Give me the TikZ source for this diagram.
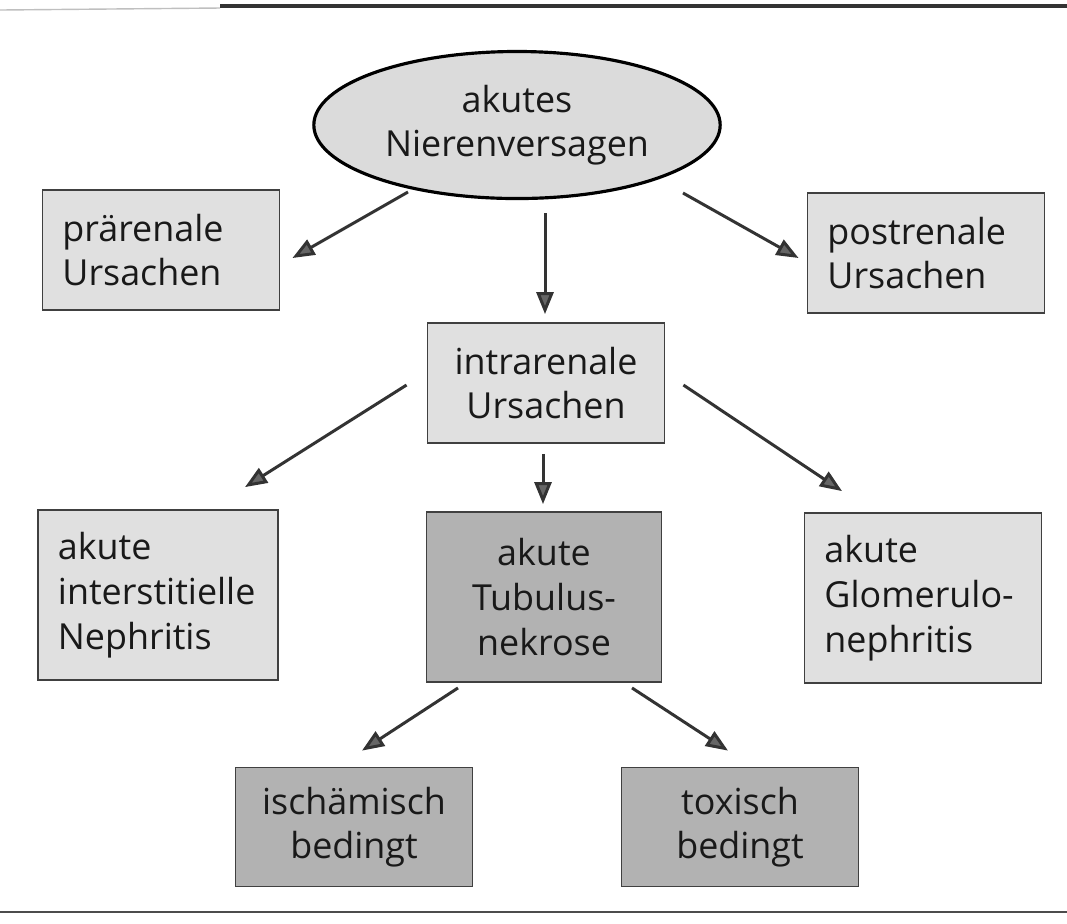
\documentclass[tikz,border=0pt]{standalone}
\usepackage{fontspec}
\setmainfont{Open Sans}
\usetikzlibrary{arrows.meta, shapes.geometric}

\begin{document}
\begin{tikzpicture}[x=0.01cm, y=-0.01cm,
    every node/.style={font=\fontsize{10.2}{12.7}\selectfont, text=black!90},
    box/.style={draw=black!75, line width=0.5pt, fill=black!12,
                inner xsep=0.2cm, text width=1.97cm},
    lbox/.style={box, align=left},
    cbox/.style={box, align=center},
    darkbox/.style={fill=black!30},
    arr/.style={draw=black!80, line width=0.85pt,
                -{Triangle[length=0.22cm, width=0.17cm, fill=black!60]}}]
  \useasboundingbox (0,0) rectangle (1067,923);
  % rules top and bottom
  \draw[black!25, line width=0.4pt] (0,10) -- (220,8);
  \draw[black!80, line width=1pt] (220,6) -- (1067,6);
  \draw[black!70, line width=0.8pt] (0,912) -- (1067,912);

  \node[ellipse, draw=black, line width=0.9pt, fill=black!14,
        minimum width=3.05cm, minimum height=1.4cm, align=center]
        (top) at (517,125) {akutes\\Nierenversagen};

  \node[lbox, minimum height=1.2cm] (pre)   at (161,250) {prärenale\\Ursachen};
  \node[lbox, minimum height=1.2cm] (post)  at (926,253) {postrenale\\Ursachen};
  \node[cbox, minimum height=1.2cm] (intra) at (546,383) {intrarenale\\Ursachen};

  \node[lbox, minimum height=1.7cm, text width=2cm] (ain) at (158,595)
        {akute\\interstitielle\\Nephritis};
  \node[cbox, darkbox, minimum height=1.7cm, text width=1.95cm] (atn) at (544,597)
        {akute\\Tubulus-\\nekrose};
  \node[lbox, minimum height=1.7cm] (agn) at (923,598)
        {akute\\Glomerulo-\\nephritis};

  \node[cbox, darkbox, minimum height=1.19cm] (isch) at (354,827) {ischämisch\\bedingt};
  \node[cbox, darkbox, minimum height=1.19cm] (tox)  at (740,827) {toxisch\\bedingt};

  % arrows
  \draw[arr] ([shift={(-109,67)}]top.center) -- ([shift={(12,8)}]pre.east);
  \draw[arr] ([shift={(28,13)}]top.south) -- ([shift={(-1,-8)}]intra.north);
  \draw[arr] ([shift={(166,68)}]top.center) -- ([shift={(-8,5)}]post.west);
  \draw[arr] ([shift={(-20,2)}]intra.west) -- ([shift={(87,-22)}]ain.north);
  \draw[arr] ([shift={(-3,10)}]intra.south) -- ([shift={(-1,-7)}]atn.north);
  \draw[arr] ([shift={(18,2)}]intra.east) -- ([shift={(-81,-21)}]agn.north);
  \draw[arr] ([shift={(-86,5)}]atn.south) -- ([shift={(8,-16)}]isch.north);
  \draw[arr] ([shift={(88,5)}]atn.south) -- ([shift={(-12,-16)}]tox.north);
\end{tikzpicture}
\end{document}
